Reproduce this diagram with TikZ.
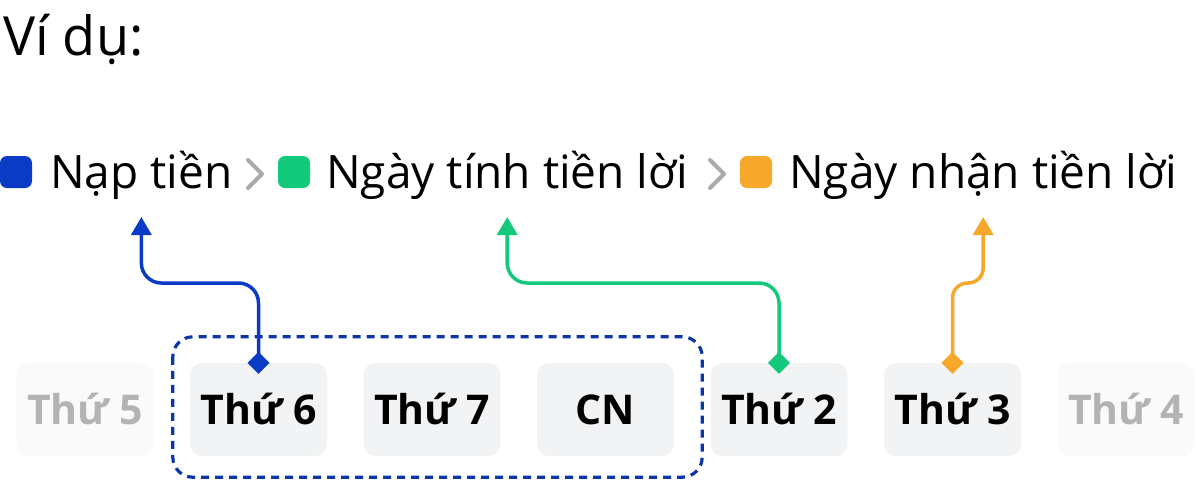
\documentclass[tikz,border=0pt]{standalone}
\usepackage{fontspec}
\setmainfont{Open Sans}
\usetikzlibrary{calc, arrows.meta}

\definecolor{napblue}{HTML}{0A3BC4}
\definecolor{frameblue}{HTML}{0B36A8}
\definecolor{tinhgreen}{HTML}{12C97C}
\definecolor{nhanorange}{HTML}{F7A82A}
\definecolor{chevgray}{HTML}{AAAAAA}
\definecolor{dayfill}{HTML}{F2F3F5}
\definecolor{fadefill}{HTML}{FAFAFA}
\definecolor{fadetext}{HTML}{B3B3B3}

\tikzset{
  legendsq/.style={rounded corners=7pt},
  legendtxt/.style={anchor=base west, inner sep=0pt, font=\fontsize{46}{50}\selectfont},
  chevron/.style={draw=chevgray, line width=4pt, line cap=round, line join=round},
  daybox/.style={fill=dayfill, rounded corners=12pt, minimum width=137pt, minimum height=93pt,
    inner sep=0pt, text height=29pt, text depth=0pt, font=\bfseries\fontsize{41}{44}\selectfont},
  dayfaded/.style={daybox, fill=fadefill, text=fadetext},
  link/.style={line width=3.5pt, rounded corners=20pt,
    {Diamond[length=22pt,width=22pt]}-{Triangle[length=18pt,width=20pt]}},
}

\begin{document}
\begin{tikzpicture}[x=1pt, y=-1pt]
    \useasboundingbox (0,0) rectangle (1196,480);
    \node[anchor=base west, inner sep=0pt, font=\fontsize{54}{60}\selectfont] (title) at (3,55) {Ví dụ:};

    % legend
    \fill[napblue, legendsq] (0,156) rectangle (32,188);
    \node[legendtxt] (nap) at (50,188) {Nạp tiền};
    \draw[chevron] (248,160) -- (262,174) -- (248,188);
    \fill[tinhgreen, legendsq] (278,156) rectangle (310,188);
    \node[legendtxt] (tinh) at (326,188) {Ngày tính tiền lời};
    \draw[chevron] (710,160) -- (724,174) -- (710,188);
    \fill[nhanorange, legendsq] (740,156) rectangle (772,188);
    \node[legendtxt] (nhan) at (789,188) {Ngày nhận tiền lời};

    \coordinate (napend) at ($(nap.base)+(0,29)$);
    \coordinate (tinhend) at ($(tinh.base)+(0,29)$);
    \coordinate (nhanend) at ($(nhan.base)+(0,29)$);

    % days
    \foreach \n/\txt/\sty [count=\i from 0] in {d5/Thứ 5/dayfaded, d6/Thứ 6/daybox, d7/Thứ 7/daybox,
        dcn/CN/daybox, d2/Thứ 2/daybox, d3/Thứ 3/daybox, d4/Thứ 4/dayfaded}
      \node[\sty] (\n) at ({85+173.5*\i},409.5) {\txt};

    \draw[frameblue, line width=3.2pt, dash pattern=on 8pt off 6pt, rounded corners=20pt]
      ($(d6.north west)+(-17,-26)$) rectangle ($(dcn.south east)+(28,21)$);

    % links
    \draw[link, napblue] ($(d6.north)+(0,11)$) |- ($(napend)+(0,66)$) -- (napend);
    \draw[link, tinhgreen] ($(d2.north)+(0,11)$) |- ($(tinhend)+(0,66)$) -- (tinhend);
    \draw[link, nhanorange, rounded corners=15pt] ($(d3.north)+(0,11)$) |- ($(nhanend)+(0,66)$) -- (nhanend);
\end{tikzpicture}
\end{document}
